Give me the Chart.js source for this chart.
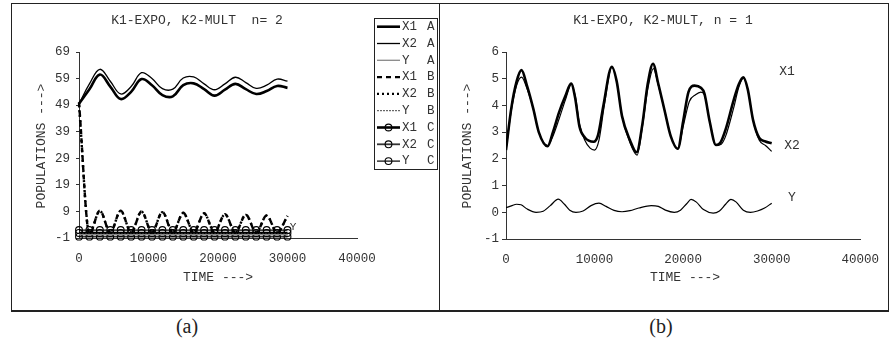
<!DOCTYPE html>
<html><head><meta charset="utf-8">
<script src="https://cdn.jsdelivr.net/npm/chart.js@4.4.1/dist/chart.umd.min.js"></script>
<style>
html,body{margin:0;padding:0;background:#fff;}
body{width:892px;height:358px;position:relative;overflow:hidden;}
.panel{position:absolute;border:1px solid #222;border-bottom-width:2px;box-sizing:border-box;}
#pa{left:11px;top:3px;width:429px;height:309px;}
#pb{left:439px;top:3px;width:450px;height:309px;}
canvas{position:absolute;left:0;top:0;}
.cap{position:absolute;font-family:'Liberation Serif','DejaVu Serif',serif;font-size:20px;color:#222;top:315px;transform:translateX(-50%);}
</style></head>
<body>
<div class="panel" id="pa"></div><div class="panel" id="pb"></div>
<div class="cap" style="left:187px">(a)</div>
<div class="cap" style="left:661px">(b)</div>
<canvas id="ca" width="892" height="358"></canvas>
<canvas id="cb" width="892" height="358"></canvas>
<script>
// ---------- Panel (a) data ----------
const aTime = [0,1500,3000,4500,6000,7500,9000,10500,12000,13500,15000,16500,18000,19500,21000,22500,24000,25500,27000,28500,30000];
const aX1A = [49.5,55,60.5,56,51.3,54,58.8,56.5,52.8,52.3,56.5,57.2,55,52.6,54.8,57,55,53.2,54.3,56.2,55.5];
const aX2A = [49.5,57,62.5,58,53.2,56,61.2,59,55.2,55,59.2,59.6,57,54.8,57,59.5,57.5,55.3,56.5,58.8,58];
const aYA  = [0.3,0.3,0.3,0.3,0.3,0.3,0.3,0.3,0.3,0.3,0.3,0.3,0.3,0.3,0.3,0.3,0.3,0.3,0.3,0.3,0.3];
const aX1B = [50,0.5,9.3,1,9.3,1,9.0,1,8.8,1,8.5,1,8.3,1,8.0,1,7.8,1,7.5,1,7.3];
const aX2B = [49,0.8,9.2,1.2,9.2,1.2,8.9,1.2,8.7,1.2,8.4,1.2,8.2,1.2,7.9,1.2,7.7,1.2,7.4,1.2,7.2];
const aYB  = [0.5,0.5,0.5,0.5,0.5,0.5,0.5,0.5,0.5,0.5,0.5,0.5,0.5,0.5,0.5,0.5,0.5,0.5,0.5,0.5,0.5];
const aX1C = [0.9,0.9,0.9,0.9,0.9,0.9,0.9,0.9,0.9,0.9,0.9,0.9,0.9,0.9,0.9,0.9,0.9,0.9,0.9,0.9,0.9];
const aX2C = [-0.5,-0.5,-0.5,-0.5,-0.5,-0.5,-0.5,-0.5,-0.5,-0.5,-0.5,-0.5,-0.5,-0.5,-0.5,-0.5,-0.5,-0.5,-0.5,-0.5,-0.5];
const aYC  = [2,2,2,2,2,2,2,2,2,2,2,2,2,2,2,2,2,2,2,2,2];
const aYTicks = [-1,9,19,29,39,49,59,69];
const xTicks = [0,10000,20000,30000,40000];

// ---------- Panel (b) data ----------
const bX1Time = [0,600,1200,1750,2400,3100,3700,4700,5300,6000,6700,7350,7800,8300,8900,9900,10400,11000,11950,12500,13100,14000,14750,15400,16000,16600,17200,17900,18600,19400,20000,20600,21300,22000,22400,23000,23700,24200,24800,25700,26300,26800,27300,27900,28600,29300,30000];
const bX1     = [2.33,3.9,4.9,5.32,4.7,3.85,3.0,2.47,3.0,3.75,4.35,4.82,4.3,3.2,2.8,2.64,2.9,4.0,5.45,4.9,3.6,2.7,2.25,3.3,4.8,5.56,4.8,3.82,2.85,2.38,3.4,4.5,4.74,4.66,4.45,3.4,2.52,2.6,3.1,4.19,4.8,5.05,4.6,3.45,2.78,2.65,2.58];
const bX2Time = [0,600,1200,1750,2400,3100,3700,4700,5300,6000,6700,7400,7850,8300,8900,9500,10000,10500,11100,11950,12500,13100,14000,14800,15400,16000,16650,17200,17900,18600,19400,20000,20700,21400,22000,22400,23000,23700,24300,24800,25700,26300,26800,27300,27900,28600,29300,30000];
const bX2     = [2.33,3.8,4.75,5.06,4.6,3.85,3.0,2.5,2.85,3.5,4.2,4.8,4.3,3.3,2.7,2.4,2.33,2.7,4.0,5.42,4.9,3.6,2.6,2.14,3.2,4.6,5.38,4.75,3.82,2.85,2.35,3.2,4.15,4.4,4.5,4.4,3.4,2.5,2.55,2.85,3.9,4.7,5.02,4.6,3.45,2.7,2.5,2.28];
const bYTime  = [0,600,1200,1700,2400,3400,4200,5000,5900,6600,7200,7900,8700,9600,10500,11300,12200,13100,14000,15000,16400,17200,18000,19000,19700,20400,20900,21500,22300,23400,24100,24800,25400,26000,26800,27600,28400,29200,30000];
const bY      = [0.17,0.24,0.3,0.28,0.12,0.0,0.04,0.25,0.49,0.3,0.08,0.0,0.05,0.25,0.34,0.22,0.07,0.02,0.06,0.16,0.25,0.22,0.08,0.0,0.08,0.32,0.48,0.38,0.1,-0.03,0.05,0.3,0.48,0.38,0.08,0.0,0.05,0.16,0.34];
const bYTicks = [-1,0,1,2,3,4,5,6];

// ---------- styling ----------
const MONO = "'Liberation Mono','DejaVu Sans Mono',monospace";
const TEXT = '#333';
Chart.defaults.font.family = MONO;
Chart.defaults.color = TEXT;

const textPlugin = {
  id:'texts',
  afterDraw(chart, args, opts){
    const ctx = chart.ctx;
    (opts.items||[]).forEach(it=>{
      ctx.save();
      ctx.font = (it.size||13)+'px '+MONO;
      ctx.fillStyle = TEXT;
      ctx.textAlign = it.align||'center';
      ctx.textBaseline = 'middle';
      ctx.translate(it.x, it.y);
      if (it.rot) ctx.rotate(it.rot);
      ctx.fillText(it.text, 0, 0);
      ctx.restore();
    });
  }
};

const legendPlugin = {
  id:'boxLegend',
  afterDraw(chart, args, o){
    if (!o || !o.enabled) return;
    const ctx = chart.ctx;
    ctx.save();
    ctx.fillStyle='#fff'; ctx.fillRect(o.x,o.y,o.w,o.h);
    ctx.strokeStyle='#222'; ctx.lineWidth=1; ctx.strokeRect(o.x+0.5,o.y+0.5,o.w,o.h);
    chart.data.datasets.forEach((ds,i)=>{
      const y = o.y + o.first + i*o.step;
      ctx.setLineDash(ds.borderDash||[]);
      ctx.strokeStyle=ds.borderColor; ctx.lineWidth=ds.borderWidth;
      ctx.beginPath(); ctx.moveTo(o.x+3,y); ctx.lineTo(o.x+26,y); ctx.stroke();
      ctx.setLineDash([]);
      if (ds.pointRadius>0){
        ctx.lineWidth=ds.pointBorderWidth||1; ctx.strokeStyle=ds.pointBorderColor||'#000';
        ctx.beginPath(); ctx.arc(o.x+14.5,y,ds.pointRadius,0,2*Math.PI); ctx.stroke();
      }
      ctx.fillStyle=TEXT; ctx.font='12.5px '+MONO; ctx.textAlign='left'; ctx.textBaseline='middle';
      const parts = ds.label.split(' ');
      ctx.fillText(parts[0],o.x+28,y); ctx.fillText(parts[1],o.x+53,y);
    });
    ctx.restore();
  }
};

function pts(t, v){ return t.map((x,i)=>({x:x, y:v[i]})); }

function axes(yTicks, yMin, yMax, yTickLen, yPad){
  return {
    x:{type:'linear',min:0,max:40000,
       afterBuildTicks:s=>{s.ticks = xTicks.map(v=>({value:v}));},
       afterFit:s=>{s.height=40;},
       grid:{drawOnChartArea:false,drawTicks:false},
       border:{display:true,color:'#333',width:1},
       ticks:{padding:13,font:{size:12.5},color:TEXT,maxRotation:0,callback:v=>String(v)}},
    y:{type:'linear',min:yMin,max:yMax,
       afterBuildTicks:s=>{s.ticks = yTicks.map(v=>({value:v}));},
       afterFit:s=>{s.width=40;},
       grid:{drawOnChartArea:false,drawTicks:true,tickLength:yTickLen,color:'#333'},
       border:{display:true,color:'#333',width:1},
       ticks:{padding:yPad,font:{size:12.5},color:TEXT,callback:v=>String(v)}}
  };
}

const common = {
  responsive:false, animation:false, events:[],
  plugins:{legend:{display:false},tooltip:{enabled:false},title:{display:false}}
};

// ---------- Chart (a) ----------
function lineDs(label, t, v, o){
  return Object.assign({label, data:pts(t,v), borderColor:'#000', borderWidth:1.2,
    pointRadius:0, tension:0, fill:false, clip:10}, o);
}
const circ = {pointRadius:3.4, pointStyle:'circle', pointBorderColor:'#000', pointBorderWidth:1.1, pointBackgroundColor:'rgba(0,0,0,0)'};
const mono = {cubicInterpolationMode:'monotone'};

new Chart(document.getElementById('ca'), {
  type:'line',
  data:{datasets:[
    lineDs('X1 A', aTime, aX1A, {borderWidth:2.6, tension:0.4}),
    lineDs('X2 A', aTime, aX2A, {borderWidth:1.3, tension:0.4}),
    lineDs('Y A',  aTime, aYA,  {borderColor:'#888', borderWidth:1.3}),
    lineDs('X1 B', aTime, aX1B, Object.assign({borderWidth:2.4, borderDash:[5,4]}, mono)),
    lineDs('X2 B', aTime, aX2B, Object.assign({borderWidth:2.4, borderDash:[2,3]}, mono)),
    lineDs('Y B',  aTime, aYB,  {borderColor:'#444', borderWidth:1, borderDash:[2,1]}),
    lineDs('X1 C', aTime, aX1C, Object.assign({borderWidth:2.6}, circ)),
    lineDs('X2 C', aTime, aX2C, Object.assign({borderWidth:1.8, borderColor:'#333'}, circ)),
    lineDs('Y C',  aTime, aYC,  Object.assign({borderWidth:1.2}, circ))
  ]},
  options:Object.assign({}, common, {
    layout:{padding:{left:39,right:535,top:52,bottom:80}},
    scales:axes(aYTicks,-1,69,3,6),
    plugins:Object.assign({}, common.plugins, {
      texts:{items:[
        {text:'K1-EXPO, K2-MULT  n= 2', x:197, y:21},
        {text:'TIME --->', x:218, y:278},
        {text:'POPULATIONS --->', x:42, y:146, rot:-Math.PI/2},
        {text:'Y', x:293, y:227, size:11}
      ]},
      boxLegend:{enabled:true, x:374, y:18, w:63, h:151, first:8.7, step:16.8}
    })
  }),
  plugins:[textPlugin, legendPlugin]
});

// ---------- Chart (b) ----------
new Chart(document.getElementById('cb'), {
  type:'line',
  data:{datasets:[
    {label:'X1', data:pts(bX1Time,bX1), borderColor:'#000', borderWidth:2.6, pointRadius:0, cubicInterpolationMode:'monotone', fill:false},
    {label:'X2', data:pts(bX2Time,bX2), borderColor:'#000', borderWidth:1.2, pointRadius:0, cubicInterpolationMode:'monotone', fill:false},
    {label:'Y',  data:pts(bYTime,bY),   borderColor:'#000', borderWidth:1.2, pointRadius:0, cubicInterpolationMode:'monotone', fill:false}
  ]},
  options:Object.assign({}, common, {
    layout:{padding:{left:466,right:26,top:52,bottom:79}},
    scales:axes(bYTicks,-1,6,4,3),
    plugins:Object.assign({}, common.plugins, {
      texts:{items:[
        {text:'K1-EXPO, K2-MULT, n = 1', x:663, y:21},
        {text:'TIME --->', x:685, y:278},
        {text:'POPULATIONS --->', x:468, y:146, rot:-Math.PI/2},
        {text:'X1', x:787, y:72},
        {text:'X2', x:792, y:146},
        {text:'Y',  x:792, y:198}
      ]},
      boxLegend:{enabled:false}
    })
  }),
  plugins:[textPlugin, legendPlugin]
});
</script>
</body></html>
